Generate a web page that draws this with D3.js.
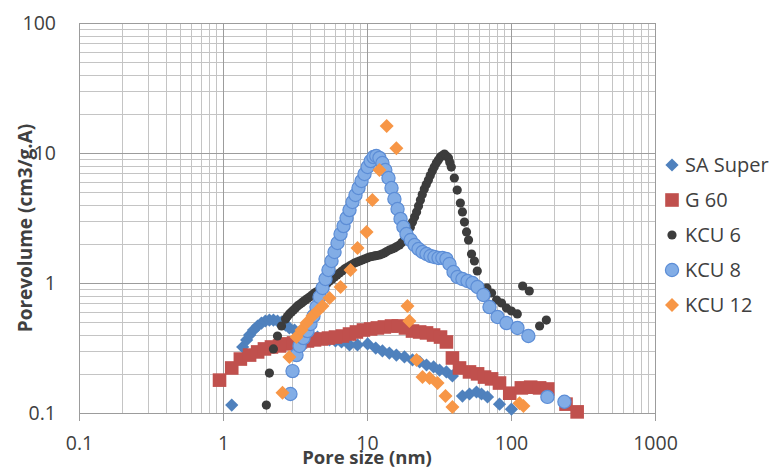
<!DOCTYPE html>
<html>
<head>
<meta charset="utf-8">
<script src="https://cdn.jsdelivr.net/npm/d3@7"></script>
<style>
  html, body { margin: 0; padding: 0; background: #fff; }
  svg { display: block; }
  text { font-family: "Open Sans", "Liberation Sans", sans-serif; fill: #404040; }
</style>
</head>
<body>
<svg id="chart" width="773" height="470"></svg>
<script>
// Pore size distribution: [pore size (nm), pore volume (cm3/g.A)]
const saSuper = [
  [1.15,0.115],[1.37,0.322],[1.46,0.365],[1.53,0.398],[1.63,0.435],[1.74,0.467],[1.85,0.492],
  [1.97,0.510],[2.10,0.519],[2.24,0.519],[2.39,0.510],[2.55,0.501],[2.72,0.475],[2.89,0.451],
  [3.14,0.435],[3.40,0.420],[3.74,0.405],[4.12,0.391],[4.53,0.384],[4.99,0.371],[5.49,0.365],
  [6.04,0.358],[6.65,0.352],[7.56,0.334],[8.59,0.334],[10.1,0.340],[11.5,0.316],[12.8,0.300],
  [14.3,0.289],[16.0,0.279],[18.2,0.270],[20.7,0.256],[23.2,0.247],[25.9,0.234],[29.0,0.226],
  [31.9,0.214],[35.6,0.207],[39.2,0.193],[46.0,0.135],[51.5,0.140],[57.6,0.145],[62.4,0.140],
  [68.7,0.133],[83.2,0.117],[100.7,0.107]
];
const g60 = [
  [0.946,0.179],[1.15,0.222],[1.32,0.260],[1.53,0.279],[1.74,0.295],[1.94,0.311],[2.17,0.322],
  [2.47,0.328],[2.76,0.340],[3.09,0.346],[3.45,0.352],[3.86,0.358],[4.32,0.365],[4.83,0.371],
  [5.40,0.377],[6.04,0.384],[6.75,0.391],[7.56,0.405],[8.44,0.420],[9.45,0.435],[10.6,0.443],
  [11.8,0.451],[13.2,0.459],[14.8,0.467],[16.5,0.467],[18.5,0.451],[20.7,0.427],[23.2,0.420],
  [25.9,0.413],[29.0,0.398],[32.4,0.384],[35.6,0.352],[39.2,0.265],[43.9,0.222],[51.5,0.207],
  [58.6,0.200],[65.5,0.189],[73.3,0.183],[83.2,0.170],[98.0,0.142],[118,0.156],[137,0.158],
  [158,0.156],[180,0.153],[241,0.117],[288,0.102]
];
const kcu6 = [
  [2.00,0.115],[2.10,0.203],[2.24,0.311],[2.39,0.391],[2.55,0.467],[2.72,0.528],[2.80,0.552],
  [2.89,0.578],[2.99,0.599],[3.09,0.620],[3.19,0.642],[3.29,0.665],[3.40,0.683],[3.51,0.702],
  [3.62,0.721],[3.74,0.740],[3.86,0.760],[3.99,0.780],[4.15,0.808],[4.32,0.838],[4.50,0.860],
  [4.68,0.883],[4.87,0.915],[5.07,0.948],[5.28,0.991],[5.49,1.036],[5.72,1.073],[5.95,1.112],
  [6.19,1.152],[6.44,1.194],[6.70,1.237],[6.98,1.281],[7.26,1.316],[7.56,1.351],[7.87,1.387],
  [8.19,1.425],[8.52,1.450],[8.87,1.476],[9.23,1.503],[9.61,1.530],[10.0,1.557],[10.4,1.585],
  [10.8,1.599],[11.3,1.614],[11.7,1.628],[12.2,1.642],[12.7,1.671],[13.2,1.701],[13.7,1.747],
  [14.3,1.794],[14.9,1.826],[15.5,1.858],[16.1,1.908],[16.8,1.960],[17.5,2.05],[18.2,2.142],
  [18.8,2.30],[19.4,2.466],[20.0,2.69],[20.7,2.944],[21.4,3.22],[22.1,3.516],[22.8,3.91],
  [23.5,4.35],[24.2,4.80],[25.0,5.29],[25.8,5.73],[26.7,6.20],[27.5,6.71],[28.4,7.27],
  [29.3,7.81],[30.3,8.38],[31.3,8.83],[32.3,9.31],[33.4,9.56],[34.5,9.82],[35.6,9.48],
  [36.8,9.16],[37.6,8.45],[38.5,7.80],[40.4,6.42],[42.3,5.19],[44.5,4.12],[46.0,3.52],
  [47.5,2.94],[49.1,2.47],[50.7,2.14],[53.2,1.671],[55.7,1.476],[58.3,1.237],[68.0,0.915],
  [73.3,0.838],[79.4,0.740],[86.0,0.702],[93.0,0.642],[100.7,0.609],[110.6,0.578],[120.5,0.948],
  [134,0.868],[158,0.467],[176,0.519]
];
const kcu8 = [
  [2.94,0.140],[3.04,0.210],[3.24,0.279],[3.40,0.328],[3.62,0.377],[3.86,0.427],[4.05,0.484],
  [4.25,0.557],[4.46,0.653],[4.68,0.780],[4.91,0.915],[5.15,1.073],[5.40,1.259],[5.67,1.476],
  [5.95,1.731],[6.24,2.03],[6.55,2.38],[6.87,2.74],[7.21,3.16],[7.56,3.64],[7.93,4.20],
  [8.32,4.75],[8.73,5.38],[9.16,6.09],[9.61,6.89],[10.1,7.80],[10.6,8.67],[11.1,9.31],
  [11.6,9.48],[12.2,9.16],[12.8,8.38],[13.4,7.40],[14.1,6.42],[14.8,5.38],[15.5,4.43],
  [16.3,3.71],[17.1,3.11],[17.9,2.70],[18.8,2.38],[20.1,2.14],[21.4,1.96],[22.8,1.826],
  [24.3,1.731],[25.9,1.671],[27.6,1.614],[29.4,1.585],[31.4,1.557],[33.4,1.557],[35.6,1.530],
  [37.4,1.400],[39.9,1.215],[42.5,1.112],[46.0,1.073],[49.9,1.036],[54.0,1.000],[58.5,0.932],
  [64.4,0.809],[70.9,0.653],[80.6,0.548],[93.0,0.492],[110.9,0.451],[132,0.391],[179,0.133],
  [235,0.122]
];
const kcu12 = [
  [2.59,0.143],[2.89,0.270],[3.24,0.384],[3.51,0.435],[3.80,0.492],[4.18,0.557],[4.53,0.609],
  [4.91,0.665],[5.49,0.767],[6.55,0.932],[7.68,1.259],[8.59,1.858],[9.93,2.47],[10.9,4.35],
  [12.2,7.40],[13.7,16.1],[16.0,10.9],[19.1,0.665],[19.7,0.510],[22.1,0.256],[24.3,0.189],
  [27.2,0.186],[30.9,0.170],[35.1,0.135],[39.2,0.111],[114.6,0.119],[122,0.113]
];

const seriesNames = ["SA Super", "G 60", "KCU 6", "KCU 8", "KCU 12"];
const xTickLabels = ["0.1", "1", "10", "100", "1000"];
const yTickLabels = ["0.1", "1", "10", "100"];
const xTitle = "Pore size (nm)";
const yTitle = "Porevolume (cm3/g.A)";

const series = [
  { name: seriesNames[0], data: saSuper, shape: "diamond", size: 6.6, fill: "#4F81BD", stroke: "none" },
  { name: seriesNames[1], data: g60,     shape: "square",  size: 6.8, fill: "#C0504D", stroke: "none" },
  { name: seriesNames[2], data: kcu6,    shape: "circle",  size: 4.6, fill: "#3C3C3C", stroke: "none" },
  { name: seriesNames[3], data: kcu8,    shape: "circle",  size: 6.6, fill: "#82ADE6", stroke: "#5C8DD6" },
  { name: seriesNames[4], data: kcu12,   shape: "diamond", size: 7.0, fill: "#F79646", stroke: "none" }
];

const svg = d3.select("#chart");
const plot = { left: 79, right: 655, top: 23, bottom: 413 };

const x = d3.scaleLog().domain([0.1, 1000]).range([plot.left, plot.right]);
const y = d3.scaleLog().domain([0.1, 100]).range([plot.bottom, plot.top]);

// grid: minor lines first, decades on top
const minorX = [], minorY = [];
for (let d = 0.1; d < 1000; d *= 10) for (let k = 2; k <= 9; k++) minorX.push(d * k);
for (let d = 0.1; d < 100; d *= 10) for (let k = 2; k <= 9; k++) minorY.push(d * k);
const majorX = xTickLabels.map(Number);
const majorY = yTickLabels.map(Number);

const grid = svg.append("g").attr("shape-rendering", "crispEdges");
grid.selectAll(".mx").data(minorX).join("line")
  .attr("x1", d => Math.round(x(d)) + 0.5).attr("x2", d => Math.round(x(d)) + 0.5)
  .attr("y1", plot.top).attr("y2", plot.bottom)
  .attr("stroke", "#c4c4c4").attr("stroke-width", 1);
grid.selectAll(".my").data(minorY).join("line")
  .attr("y1", d => Math.round(y(d)) + 0.5).attr("y2", d => Math.round(y(d)) + 0.5)
  .attr("x1", plot.left).attr("x2", plot.right)
  .attr("stroke", "#c4c4c4").attr("stroke-width", 1);

// axes through d3 axis generators; decade lines span the plot
const xAxis = svg.append("g").attr("transform", `translate(0,${plot.bottom})`)
  .call(d3.axisBottom(x).tickValues(majorX).tickFormat((d, i) => xTickLabels[i])
    .tickSizeInner(8).tickSizeOuter(0).tickPadding(15));
xAxis.select(".domain").attr("stroke", "#9c9c9c");
xAxis.selectAll(".tick line").attr("stroke", "#9c9c9c").attr("y1", -(plot.bottom - plot.top));
xAxis.selectAll(".tick text").attr("font-size", 19.5).attr("fill", "#404040")
  .attr("font-family", "'Open Sans', sans-serif");

const yAxis = svg.append("g").attr("transform", `translate(${plot.left},0)`)
  .call(d3.axisLeft(y).tickValues(majorY).tickFormat((d, i) => yTickLabels[i])
    .tickSizeInner(7).tickSizeOuter(0).tickPadding(16));
yAxis.select(".domain").attr("stroke", "#9c9c9c");
yAxis.selectAll(".tick line").attr("stroke", "#9c9c9c").attr("x2", plot.right - plot.left);
yAxis.selectAll(".tick text").attr("font-size", 19.5).attr("fill", "#404040")
  .attr("font-family", "'Open Sans', sans-serif");
xAxis.attr("shape-rendering", "crispEdges");
yAxis.attr("shape-rendering", "crispEdges");

function markerPath(shape, r) {
  if (shape === "diamond") return `M0,${-r}L${r},0L0,${r}L${-r},0Z`;
  if (shape === "square") return `M${-r},${-r}H${r}V${r}H${-r}Z`;
  return d3.symbol().type(d3.symbolCircle).size(Math.PI * r * r)();
}

// markers, drawn series by series
series.forEach(s => {
  svg.append("g").selectAll("path").data(s.data).join("path")
    .attr("transform", d => `translate(${x(d[0])},${y(d[1])})`)
    .attr("d", markerPath(s.shape, s.size))
    .attr("fill", s.fill)
    .attr("stroke", s.stroke)
    .attr("stroke-width", s.stroke === "none" ? 0 : 1.2);
});

// legend
const legend = svg.append("g").attr("transform", "translate(672,165)");
series.forEach((s, i) => {
  const row = legend.append("g").attr("transform", `translate(0,${i * 35})`);
  row.append("path").attr("d", markerPath(s.shape, s.size))
    .attr("fill", s.fill).attr("stroke", s.stroke)
    .attr("stroke-width", s.stroke === "none" ? 0 : 1.2);
  row.append("text").attr("x", 13).attr("y", 0).attr("dy", "0.35em")
    .attr("font-size", 20).text(s.name);
});

// axis titles
svg.append("text").attr("x", 367).attr("y", 464).attr("text-anchor", "middle")
  .attr("font-size", 18.5).attr("font-weight", "bold").attr("fill", "#262626").text(xTitle);
svg.append("text").attr("transform", "translate(32,228) rotate(-90)").attr("text-anchor", "middle")
  .attr("font-size", 19).attr("font-weight", "bold").attr("fill", "#262626").text(yTitle);
</script>
</body>
</html>
